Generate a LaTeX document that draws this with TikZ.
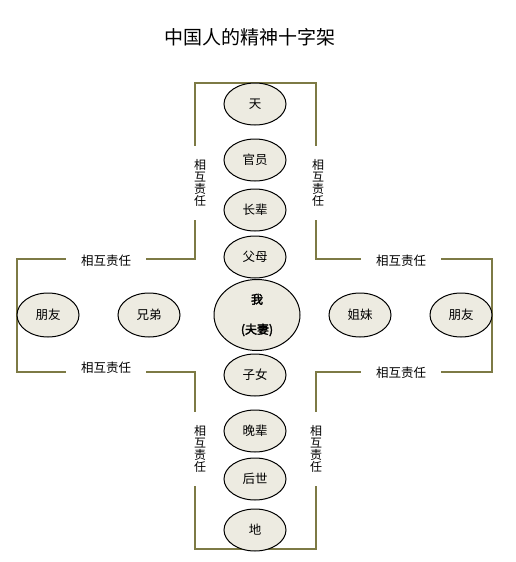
\documentclass[tikz,border=0pt]{standalone}
\usepackage{fontspec}
\setmainfont{Noto Sans CJK SC}
\newfontfamily\cjkbold{Noto Sans CJK SC}[FakeBold=2.5]
\usetikzlibrary{shapes.geometric}
\definecolor{olive}{HTML}{7D7A45}
\definecolor{ellfill}{HTML}{EDEBE1}
\tikzset{
  person/.style={ellipse, draw=black, line width=1pt, fill=ellfill, inner sep=0pt,
     minimum width=62pt, minimum height=42pt, font=\fontsize{12.5}{13}\selectfont},
  hlabel/.style={fill=white, inner xsep=15pt, inner ysep=3pt, font=\fontsize{12.5}{13}\selectfont},
  vlabel/.style={fill=white, inner xsep=2pt, inner ysep=13pt, align=center, font=\fontsize{12}{12.2}\selectfont},
  cross/.style={draw=olive, line width=2pt},
}
\begin{document}
\begin{tikzpicture}[x=1pt,y=-1pt]
\useasboundingbox[fill=white] (0,0) rectangle (516,562);
\node[font=\fontsize{19}{21}\selectfont] (title) at (250,37) {中国人的精神十字架};
% cross outline
\draw[cross] (195,83) -- (316,83) -- (316,259) -- (492,259) -- (492,372) -- (316,372)
  -- (316,549) -- (195,549) -- (195,372) -- (17,372) -- (17,259) -- (195,259) -- cycle;
% labels on the outline
\node[vlabel] (lt) at (200,183) {相\\互\\责\\任};
\node[vlabel] (rt) at (318,183) {相\\互\\责\\任};
\node[vlabel] (lb) at (200,449) {相\\互\\责\\任};
\node[vlabel] (rb) at (316,449) {相\\互\\责\\任};
\node[hlabel] (tl) at (106,261) {相互责任};
\node[hlabel] (bl) at (106,368) {相互责任};
\node[hlabel] (tr) at (401,261) {相互责任};
\node[hlabel] (br) at (401,373) {相互责任};
% ellipses
\node[person] (tian) at (255,104) {天};
\node[person] (guan) at (255,160) {官员};
\node[person] (zhang) at (255,210) {长辈};
\node[person] (fu) at (255,257) {父母};
\node[person, minimum width=86pt, minimum height=71pt, align=center,
      font=\cjkbold\fontsize{12}{30}\selectfont] (wo) at (257,315) {我\\(夫妻)};
\node[person] (zi) at (255,375) {子女};
\node[person] (wan) at (255,431) {晚辈};
\node[person] (hou) at (255,479) {后世};
\node[person] (di) at (255,530) {地};
\node[person, minimum height=44pt] (youL) at (48,315) {朋友};
\node[person, minimum height=44pt] (xiong) at (149,315) {兄弟};
\node[person, minimum height=44pt] (jie) at (360,315) {姐妹};
\node[person, minimum height=44pt] (youR) at (461,315) {朋友};
\end{tikzpicture}
\end{document}
